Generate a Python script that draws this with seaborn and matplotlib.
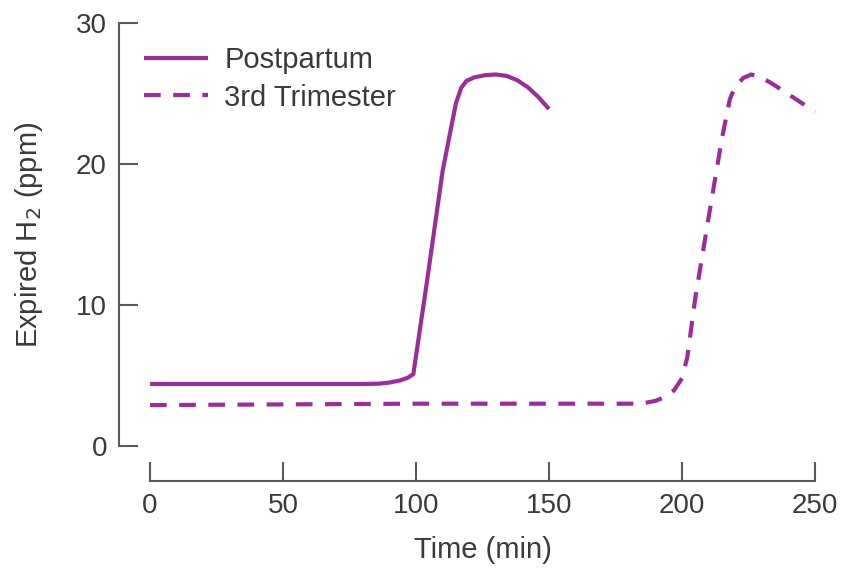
import matplotlib
matplotlib.use("Agg")
import matplotlib.pyplot as plt
import seaborn as sns
import pandas as pd

# ----------------------------------------
# Data
# ----------------------------------------
post_time = [0, 20, 40, 60, 80, 86, 90, 94, 97, 99, 104, 110, 115, 117, 119, 122, 126, 130, 134, 138, 142, 146, 150]
post_h2 = [4.4, 4.4, 4.4, 4.4, 4.4, 4.42, 4.5, 4.65, 4.85, 5.1, 11.5, 19.5, 24.3, 25.4, 25.9, 26.15, 26.3, 26.35, 26.25, 25.95, 25.45, 24.75, 23.9]

tri_time = [0, 50, 100, 150, 182, 186, 190, 194, 197, 200, 202, 205, 210, 215, 218, 220, 223, 226, 229, 233, 238, 244, 250]
tri_h2 = [2.9, 2.95, 3.0, 3.0, 3.0, 3.05, 3.2, 3.5, 3.95, 4.8, 6.3, 10.5, 16.2, 21.8, 24.6, 25.5, 26.1, 26.35, 26.2, 25.8, 25.2, 24.45, 23.7]

x_ticks = [0, 50, 100, 150, 200, 250]
y_ticks = [0, 10, 20, 30]

purple = "#9b2d9b"
axis_grey = "#5a5a5a"
text_grey = "#3a3a3a"

sns.set_style("ticks")
plt.rcParams["font.family"] = ["Liberation Sans", "DejaVu Sans"]

fig = plt.figure(figsize=(8.44, 5.73), dpi=100)
ax = fig.add_axes([150 / 844, 1 - 446 / 573, 665 / 844, 423 / 573])

df_post = pd.DataFrame({"Time": post_time, "H2": post_h2})
df_tri = pd.DataFrame({"Time": tri_time, "H2": tri_h2})

sns.lineplot(data=df_post, x="Time", y="H2", ax=ax, color=purple, lw=3,
             label="Postpartum", clip_on=False, solid_capstyle="butt",
             solid_joinstyle="round")
sns.lineplot(data=df_tri, x="Time", y="H2", ax=ax, color=purple, lw=3,
             label="3rd Trimester", clip_on=False, dashes=False)
ax.lines[1].set_dashes([4, 3])

ax.set_xlim(0, 250)
ax.set_ylim(0, 30)
ax.set_xticks(x_ticks)
ax.set_yticks(y_ticks)

sns.despine(ax=ax, offset={"left": 22, "bottom": 25})
ax.spines["left"].set_bounds(0, 30)
ax.spines["bottom"].set_bounds(0, 250)
for s in ("left", "bottom"):
    ax.spines[s].set_color(axis_grey)
    ax.spines[s].set_linewidth(1.5)

ax.tick_params(axis="both", direction="in", length=14, width=1.5,
               color=axis_grey, labelsize=20, labelcolor=text_grey)
ax.tick_params(axis="y", pad=9)
ax.tick_params(axis="x", pad=9)

ax.set_xlabel("Time (min)", fontsize=21, color=text_grey, labelpad=12)
ax.set_ylabel("Expired H$_2$ (ppm)", fontsize=21, color=text_grey, labelpad=22)

leg = ax.legend(loc="upper left", bbox_to_anchor=(118 / 844, 1 - 20 / 573),
                bbox_transform=fig.transFigure, frameon=False, fontsize=21,
                handlelength=2.2, handletextpad=0.55, labelspacing=0.32)
for t in leg.get_texts():
    t.set_color(text_grey)

plt.savefig("out.png", dpi=100)
plt.close()
